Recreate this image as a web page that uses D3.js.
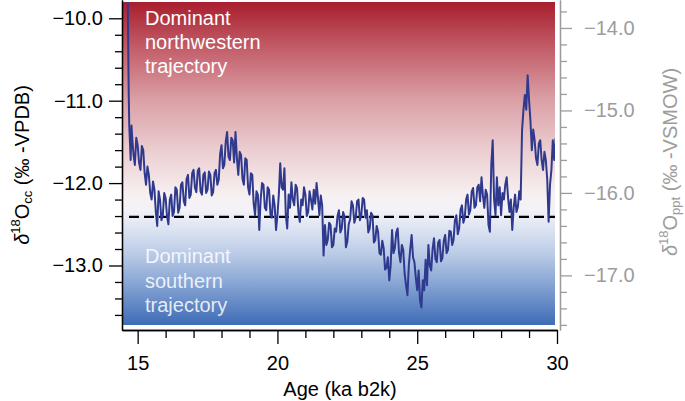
<!DOCTYPE html>
<html><head><meta charset="utf-8">
<script src="https://cdn.jsdelivr.net/npm/d3@7"></script>
<style>body{margin:0;background:#fff;}svg{display:block;font-family:"Liberation Sans",Arial,Helvetica,sans-serif;}</style>
</head><body>
<svg id="c" width="685" height="401"></svg>
<script>
// ---- data (age in ka b2k, d18O calcite in permil VPDB) ----
const ages = [14.64,14.68,14.70,14.73,14.75,14.78,14.80,14.85,14.90,14.95,15.00,15.05,15.10,15.15,15.20,15.25,15.30,15.35,15.40,15.45,15.50,15.55,15.60,15.65,15.70,15.75,15.80,15.85,15.90,15.95,
16.00,16.05,16.10,16.15,16.20,16.25,16.30,16.35,16.40,16.45,16.50,16.55,16.60,16.65,16.70,16.75,16.80,16.85,16.90,16.95,
17.00,17.05,17.10,17.15,17.20,17.25,17.30,17.35,17.40,17.45,17.50,17.55,17.60,17.65,17.70,17.75,17.80,17.85,17.90,17.95,
18.00,18.05,18.10,18.15,18.20,18.25,18.30,18.35,18.40,18.45,18.50,18.55,18.60,18.65,18.70,18.75,18.80,18.85,18.90,18.95,
19.00,19.05,19.10,19.15,19.20,19.25,19.30,19.35,19.40,19.45,19.50,19.55,19.60,19.65,19.70,19.75,19.80,19.85,19.90,19.95,
20.00,20.05,20.10,20.15,20.20,20.25,20.30,20.35,20.40,20.45,20.50,20.55,20.60,20.65,20.70,20.75,20.80,20.85,20.90,20.95,
21.00,21.05,21.10,21.15,21.20,21.25,21.30,21.35,21.40,21.45,21.50,21.55,21.60,21.65,21.70,21.75,21.80,21.85,21.90,21.95,
22.00,22.05,22.10,22.15,22.20,22.25,22.30,22.35,22.40,22.45,22.50,22.55,22.60,22.65,22.70,22.75,22.80,22.85,22.90,22.95,
23.00,23.05,23.10,23.15,23.20,23.25,23.30,23.35,23.40,23.45,23.50,23.55,23.60,23.65,23.70,23.75,23.80,23.85,23.90,23.95,
24.00,24.05,24.10,24.15,24.20,24.25,24.30,24.35,24.40,24.45,24.50,24.55,24.60,24.65,24.70,24.75,24.80,24.85,24.90,24.95,
25.00,25.05,25.10,25.15,25.20,25.25,25.30,25.35,25.40,25.45,25.50,25.55,25.60,25.65,25.70,25.75,25.80,25.85,25.90,25.95,
26.00,26.05,26.10,26.15,26.20,26.25,26.30,26.35,26.40,26.45,26.50,26.55,26.60,26.65,26.70,26.75,26.80,26.85,26.90,26.95,
27.00,27.05,27.10,27.15,27.20,27.25,27.30,27.35,27.40,27.45,27.50,27.55,27.60,27.65,27.70,27.75,27.80,27.85,27.90,27.95,
28.00,28.05,28.10,28.15,28.20,28.25,28.30,28.35,28.40,28.45,28.50,28.55,28.60,28.65,28.70,28.75,28.80,28.85,28.90,28.95,
29.00,29.05,29.10,29.15,29.20,29.25,29.30,29.35,29.40,29.45,29.50,29.55,29.60,29.65,29.70,29.75,29.80,29.85,29.90,29.95];
const d18Occ = [-9.60,-10.90,-11.30,-11.55,-11.72,-11.30,-11.42,-11.65,-11.78,-11.45,-11.54,-11.75,-11.84,-11.55,-11.60,-11.88,-12.02,-11.80,-11.90,-12.12,-12.20,-11.98,-12.08,-12.35,-12.52,-12.10,-12.20,-12.45,-12.39,-12.12,
-12.18,-12.40,-12.50,-12.20,-12.14,-12.40,-12.35,-12.05,-12.08,-12.36,-12.30,-12.02,-11.99,-12.22,-12.27,-11.95,-11.90,-12.18,-12.14,-11.88,
-11.84,-12.06,-12.11,-11.85,-11.82,-12.10,-12.14,-11.90,-11.87,-12.12,-12.08,-11.86,-11.90,-12.15,-12.11,-11.88,-11.84,-12.02,-11.96,-11.65,
-11.54,-11.82,-11.78,-11.50,-11.38,-11.68,-11.72,-11.45,-11.48,-11.75,-11.38,-11.70,-11.90,-11.62,-11.66,-11.95,-12.02,-11.70,-11.72,-12.05,
-12.14,-11.88,-11.90,-12.25,-12.39,-12.10,-12.14,-12.57,-12.20,-12.00,-12.02,-12.30,-12.33,-12.05,-12.08,-12.38,-12.42,-12.15,-12.27,-12.57,
-12.39,-12.14,-11.76,-12.05,-12.08,-11.82,-12.39,-12.55,-12.14,-12.30,-11.99,-12.20,-12.27,-12.02,-12.06,-12.35,-12.47,-12.20,-12.27,-12.05,
-12.14,-12.40,-12.35,-12.10,-12.20,-12.32,-12.08,-12.25,-12.00,-12.18,-12.39,-12.15,-12.27,-12.88,-12.51,-12.75,-12.69,-12.48,-12.51,-12.78,
-12.75,-12.55,-12.59,-12.40,-12.33,-12.60,-12.55,-12.35,-12.41,-12.78,-12.71,-12.50,-12.44,-12.22,-12.27,-12.48,-12.42,-12.22,-12.20,-12.45,
-12.39,-12.18,-12.20,-12.42,-12.33,-12.60,-12.55,-12.36,-12.39,-12.72,-12.69,-12.52,-12.59,-12.85,-12.87,-12.70,-12.79,-13.05,-13.03,-12.90,
-13.18,-13.00,-12.57,-12.85,-12.79,-12.60,-12.55,-12.85,-12.96,-12.75,-12.81,-13.10,-13.24,-13.36,-13.00,-12.80,-12.63,-12.90,-12.96,-13.15,
-13.30,-13.06,-13.42,-13.51,-13.18,-13.30,-12.93,-13.24,-12.75,-13.00,-13.06,-12.80,-12.67,-12.92,-12.96,-12.72,-12.69,-12.95,-12.91,-12.70,
-12.63,-12.85,-12.81,-12.58,-12.59,-12.75,-12.69,-12.45,-12.39,-12.62,-12.55,-12.32,-12.27,-12.48,-12.42,-12.20,-12.14,-12.38,-12.33,-12.10,
-12.06,-12.30,-12.27,-12.05,-12.02,-12.22,-11.93,-12.15,-12.30,-12.08,-12.14,-12.51,-12.59,-11.78,-11.48,-12.20,-12.39,-11.93,-12.27,-12.05,
-12.39,-12.12,-12.20,-12.02,-11.93,-12.18,-12.35,-12.20,-12.57,-12.30,-12.14,-12.35,-12.29,-12.10,-12.20,-11.36,-11.11,-10.93,-11.11,-10.69,
-10.99,-11.24,-11.60,-11.35,-11.48,-11.70,-11.78,-11.52,-11.48,-11.72,-11.84,-11.62,-11.72,-11.95,-12.47,-12.02,-11.84,-11.48,-11.72,-11.45];
const threshold = -12.41;
const xMajor = [15,20,25,30];
const xMinor = [16,17,18,19,21,22,23,24,26,27,28,29];
const leftMajor = [-10,-11,-12,-13];
const leftMinor = [-10.2,-10.4,-10.6,-10.8,-11.2,-11.4,-11.6,-11.8,-12.2,-12.4,-12.6,-12.8,-13.2,-13.4,-13.6];
const rightMajor = [-14,-15,-16,-17];
const rightMinor = [-13.8,-14.2,-14.4,-14.6,-14.8,-15.2,-15.4,-15.6,-15.8,-16.2,-16.4,-16.6,-16.8,-17.2,-17.4,-17.6];
const topLabel = ["Dominant","northwestern","trajectory"];
const bottomLabel = ["Dominant","southern","trajectory"];

// ---- layout ----
const svg = d3.select("#c");
const x = d3.scaleLinear().domain([14.44,30]).range([122,557]);
const yL = d3.scaleLinear().domain([-13.783,-9.778]).range([330,0]);
const yR = d3.scaleLinear().domain([-17.662,-13.661]).range([330,0]);
const FS = 20;

// gradient background
const defs = svg.append("defs");
const grad = defs.append("linearGradient").attr("id","bg").attr("x1",0).attr("y1",0).attr("x2",0).attr("y2",1);
const stops = [[2,"#a81e2e"],[50,"#c4606b"],[100,"#daa0a6"],[150,"#ebcdd0"],[195,"#f7f0f1"],[210,"#f2f2f8"],[230,"#dbe3f1"],[255,"#b9cae6"],[285,"#85a3d3"],[325,"#3e6cb6"]];
stops.forEach(s=>grad.append("stop").attr("offset",((s[0]-2)/323).toFixed(3)).attr("stop-color",s[1]));
const px0 = 123, px1 = 555, py0 = 2, py1 = 325;
svg.append("rect").attr("x",px0).attr("y",py0).attr("width",px1-px0).attr("height",py1-py0).attr("fill","url(#bg)");
defs.append("clipPath").attr("id","clip").append("rect").attr("x",px0).attr("y",py0).attr("width",px1-px0).attr("height",py1-py0);

// region labels
const tl = svg.append("text").attr("fill","#fff").attr("font-size",FS);
topLabel.forEach((t,i)=>tl.append("tspan").attr("x",145).attr("y",25+i*24).text(t));
const bl = svg.append("text").attr("fill","#fff").attr("fill-opacity",0.85).attr("font-size",FS);
bottomLabel.forEach((t,i)=>bl.append("tspan").attr("x",145).attr("y",263+i*24.5).text(t));

// dashed threshold
svg.append("line").attr("x1",129).attr("x2",px1).attr("y1",yL(threshold)).attr("y2",yL(threshold))
  .attr("stroke","#000").attr("stroke-width",2.4).attr("stroke-dasharray","10,5");

// data line
const data = ages.map((a,i)=>[a,d18Occ[i]]);
svg.append("path").datum(data).attr("clip-path","url(#clip)")
  .attr("d",d3.line().x(d=>x(d[0])).y(d=>yL(d[1])))
  .attr("fill","none").attr("stroke","#2f3a8f").attr("stroke-width",2).attr("stroke-linejoin","round");

// axes
const fmt = d3.format(".1f");
function styleAxis(g,color){
  g.selectAll("path,line").attr("stroke",color).attr("stroke-width",1.3);
  g.selectAll("text").attr("fill",color).attr("font-size",FS).attr("font-family","Liberation Sans, Arial, sans-serif");
}
const gL = svg.append("g").attr("transform","translate(122,0)");
gL.append("g").call(d3.axisLeft(yL).tickValues(leftMinor).tickSize(7).tickSizeOuter(0).tickFormat("")).call(g=>styleAxis(g,"#000"));
gL.append("g").call(d3.axisLeft(yL).tickValues(leftMajor).tickSize(13).tickSizeOuter(0).tickPadding(6).tickFormat(fmt)).call(g=>styleAxis(g,"#000"));
const gB = svg.append("g").attr("transform","translate(0,330)");
gB.append("g").call(d3.axisBottom(x).tickValues(xMinor).tickSize(8).tickSizeOuter(0).tickFormat("")).call(g=>styleAxis(g,"#000"));
gB.append("g").call(d3.axisBottom(x).tickValues(xMajor).tickSize(14).tickSizeOuter(0).tickPadding(12).tickFormat(d3.format("d"))).call(g=>styleAxis(g,"#000"));
const gR = svg.append("g").attr("transform","translate(560,0)");
gR.append("g").call(d3.axisRight(yR).tickValues(rightMinor).tickSize(7).tickSizeOuter(0).tickFormat("")).call(g=>styleAxis(g,"#9c9c9c"));
gR.append("g").call(d3.axisRight(yR).tickValues(rightMajor).tickSize(12).tickSizeOuter(0).tickPadding(12).tickFormat(fmt)).call(g=>styleAxis(g,"#9c9c9c"));

// axis titles
svg.append("text").attr("x",340).attr("y",396).attr("text-anchor","middle").attr("font-size",FS).attr("fill","#000").text("Age (ka b2k)");
function yTitle(xp,yp,sub,unit,color){
  const t = svg.append("text").attr("transform",`translate(${xp},${yp}) rotate(-90)`).attr("text-anchor","middle")
    .attr("font-size",FS).attr("fill",color).attr("dominant-baseline","central");
  t.append("tspan").attr("font-style","italic").text("δ");
  t.append("tspan").attr("font-size",13).attr("dy",-7).text("18");
  t.append("tspan").attr("dy",7).text("O");
  t.append("tspan").attr("font-size",13).attr("dy",5).text(sub);
  t.append("tspan").attr("dy",-5).text(" (‰ -"+unit+")");
}
yTitle(22,165,"cc","VPDB","#000");
yTitle(670,162,"ppt","VSMOW","#9c9c9c");
</script>
</body></html>
